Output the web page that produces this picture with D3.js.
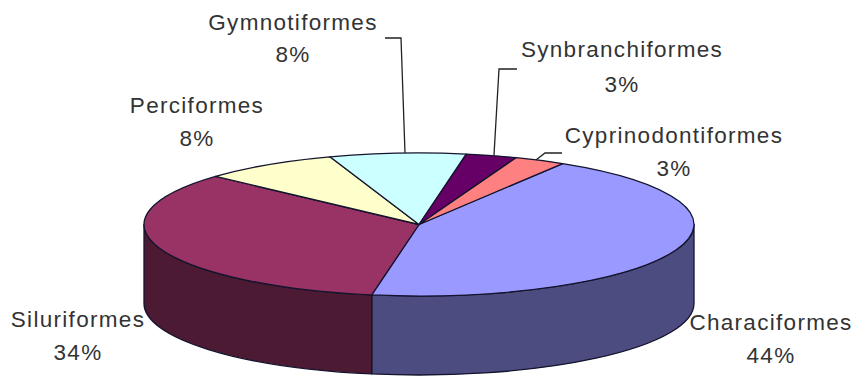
<!DOCTYPE html>
<html>
<head>
<meta charset="utf-8">
<script src="https://cdn.jsdelivr.net/npm/d3@7"></script>
<style>
  html, body { margin: 0; padding: 0; background: #fff; }
  svg { display: block; }
  text { font-family: "Liberation Sans", Arial, sans-serif; font-size: 22.5px; letter-spacing: 1.3px; fill: #333; text-anchor: middle; }
</style>
</head>
<body>
<svg id="chart" width="856" height="378"></svg>
<script>
// Fish orders, share of species (%)
const orders = ["Characiformes", "Siluriformes", "Perciformes", "Gymnotiformes", "Synbranchiformes", "Cyprinodontiformes"];
const shares = [44, 34, 8, 8, 3, 3];
const topColors = ["#9999ff", "#993366", "#ffffcc", "#ccffff", "#660066", "#ff8080"];
const wallColors = ["#4c4c80", "#4d1a33", "#808066", "#668080", "#330033", "#804040"];

// Label centres: x, first-line baseline, second-line baseline
const labelX = [771, 78, 197, 293, 622, 674];
const labelY1 = [330, 327, 113, 30, 57, 143];
const labelY2 = [363, 360, 146, 62, 92, 176];

// Leader lines for the labels sitting away from their slices
const leaders = [
  { order: "Gymnotiformes", pts: [[385, 38], [401, 38], [405, 153]] },
  { order: "Synbranchiformes", pts: [[517, 69], [499, 69], [494, 155]] },
  { order: "Cyprinodontiformes", pts: [[562, 153], [545, 153], [536, 160]] }
];

const cx = 419, cy = 224.5, rx = 275, ry = 71.5, depth = 79;
const startDeg = 31.5;
const outline = "#14142e";

const svg = d3.select("#chart");

const pie = d3.pie().sort(null)
  .startAngle(startDeg * Math.PI / 180)
  .endAngle((startDeg + 360) * Math.PI / 180);
const slices = pie(shares).map((d, i) => ({ ...d, i }));

// Point on the flattened rim; angle runs clockwise from twelve o'clock
const rim = (a, dy = 0) => [cx + rx * Math.sin(a), cy - ry * Math.cos(a) + dy];
const arcTo = (p, sweep) => `A${rx},${ry} 0 0 ${sweep} ${p[0]},${p[1]}`;

// Side walls are only visible on the near half of the rim
const front0 = Math.PI / 2, front1 = 3 * Math.PI / 2;
function wallPath(d) {
  const wrap = [0, 2 * Math.PI];
  for (const w of wrap) {
    const a0 = Math.max(d.startAngle - w, front0);
    const a1 = Math.min(d.endAngle - w, front1);
    if (a1 > a0) {
      const t0 = rim(a0), t1 = rim(a1), b0 = rim(a0, depth), b1 = rim(a1, depth);
      return `M${t0}${arcTo(t1, 1)}L${b1}${arcTo(b0, 0)}Z`;
    }
  }
  return null;
}

svg.append("g").selectAll("path")
  .data(slices.filter(wallPath))
  .join("path")
  .attr("d", wallPath)
  .attr("fill", d => wallColors[d.i])
  .attr("stroke", outline)
  .attr("stroke-width", 1.3)
  .attr("stroke-linejoin", "round");

// Top face: circular arcs squashed into the ellipse
const arc = d3.arc().innerRadius(0).outerRadius(rx);
svg.append("g")
  .attr("transform", `translate(${cx},${cy}) scale(1,${ry / rx})`)
  .selectAll("path")
  .data(slices)
  .join("path")
  .attr("d", arc)
  .attr("fill", d => topColors[d.i])
  .attr("stroke", outline)
  .attr("stroke-width", 1.3)
  .attr("stroke-linejoin", "round")
  .attr("vector-effect", "non-scaling-stroke");

const line = d3.line();
svg.append("g").selectAll("path")
  .data(leaders)
  .join("path")
  .attr("d", d => line(d.pts))
  .attr("fill", "none")
  .attr("stroke", "#222")
  .attr("stroke-width", 1.3);

const labels = svg.append("g").selectAll("g")
  .data(orders)
  .join("g");
labels.append("text")
  .attr("x", (d, i) => labelX[i])
  .attr("y", (d, i) => labelY1[i])
  .text(d => d);
labels.append("text")
  .attr("x", (d, i) => labelX[i])
  .attr("y", (d, i) => labelY2[i])
  .text((d, i) => `${shares[i]}%`);
</script>
</body>
</html>
